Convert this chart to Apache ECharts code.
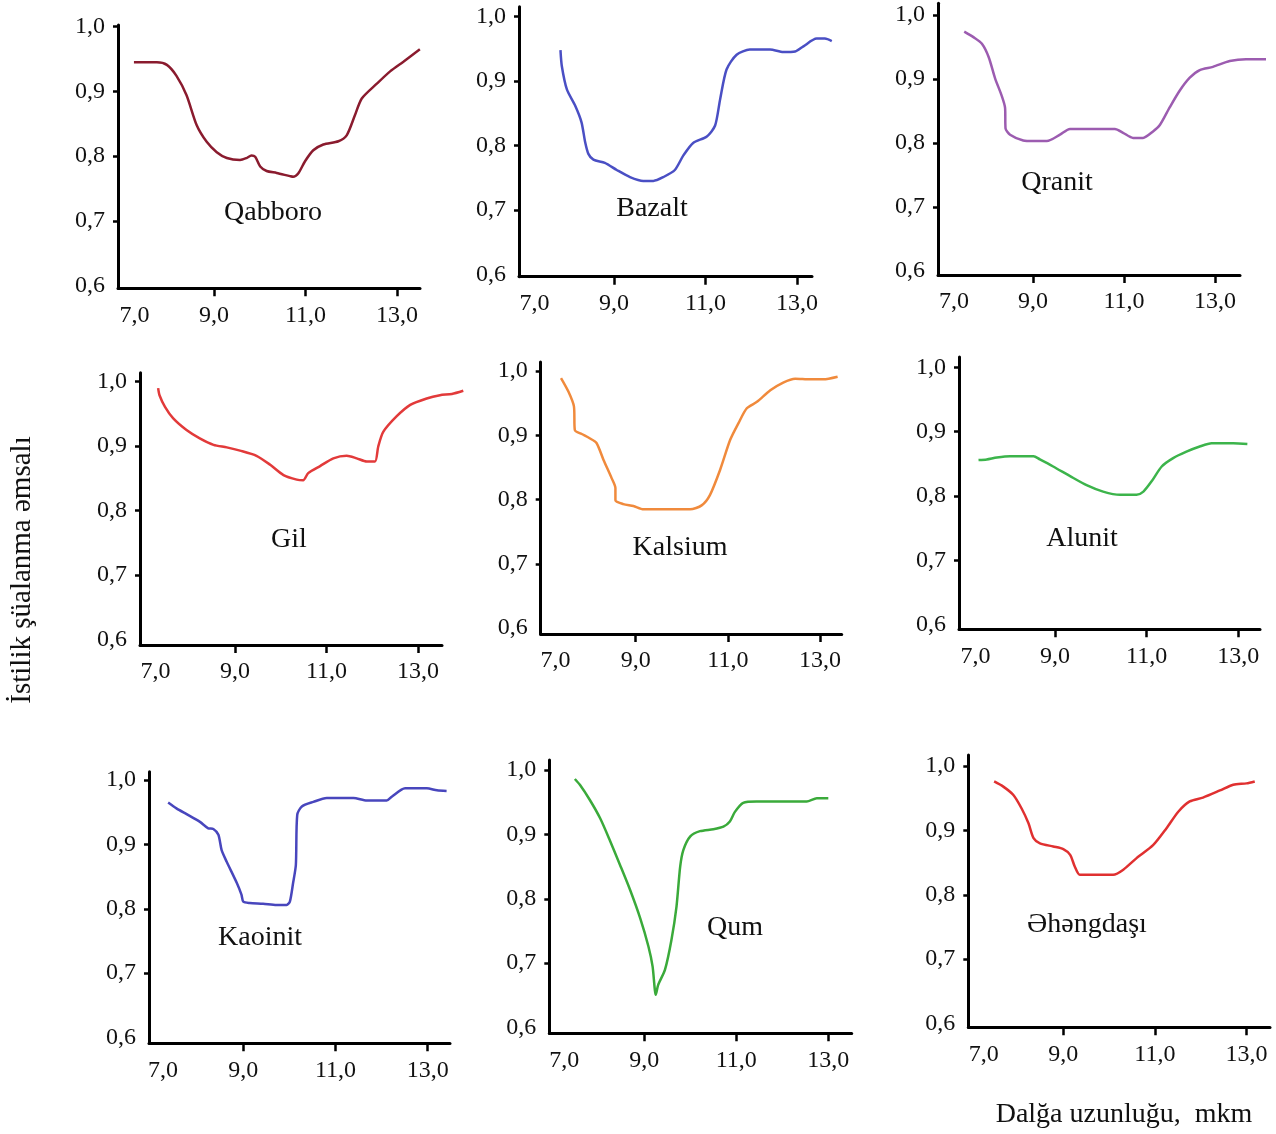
<!DOCTYPE html>
<html><head><meta charset="utf-8">
<script src="https://cdn.jsdelivr.net/npm/echarts@6/dist/echarts.min.js"></script>
<style>html,body{margin:0;padding:0;background:#fff}#c{width:1276px;height:1134px}</style>
</head><body><div id="c"></div>
<script>
// ---------- data ----------
const panelNames = ['Qabboro','Bazalt','Qranit','Gil','Kalsium','Alunit','Kaoinit','Qum','Əhəngdaşı'];
const xTickValues = [7, 9, 11, 13];
const xTickLabels = ['7,0','9,0','11,0','13,0'];
const yTickValues = [0.6, 0.7, 0.8, 0.9, 1.0];
const yTickLabels = ['0,6','0,7','0,8','0,9','1,0'];
const yAxisTitle = 'İstilik şüalanma əmsalı';
const xAxisTitle = 'Dalğa uzunluğu,  mkm';

const qabboroX = [7.25,7.75,7.97,8.18,8.40,8.62,8.84,9.06,9.28,9.57,9.71,9.82,9.90,10.01,10.15,10.37,10.66,10.73,10.84,10.99,11.17,11.39,11.72,11.90,12.08,12.23,12.56,12.85,13.14,13.50];
const qabboroY = [0.945,0.945,0.941,0.924,0.894,0.848,0.822,0.806,0.797,0.794,0.797,0.801,0.799,0.784,0.777,0.774,0.769,0.768,0.773,0.792,0.809,0.818,0.823,0.832,0.863,0.889,0.912,0.931,0.946,0.965];

const bazaltX = [7.83,7.86,7.97,8.15,8.29,8.37,8.44,8.55,8.80,9.06,9.35,9.64,9.86,10.08,10.33,10.52,10.73,11.03,11.21,11.32,11.46,11.68,11.97,12.41,12.70,12.96,13.14,13.43,13.61,13.76];
const bazaltY = [0.948,0.923,0.887,0.862,0.836,0.805,0.787,0.778,0.773,0.762,0.751,0.745,0.745,0.751,0.762,0.785,0.804,0.814,0.831,0.872,0.918,0.941,0.949,0.949,0.945,0.946,0.954,0.966,0.966,0.962];

const qranitX = [7.49,7.70,7.88,8.03,8.17,8.32,8.39,8.40,8.50,8.79,9.01,9.31,9.60,9.82,10.33,10.81,10.99,11.21,11.43,11.65,11.80,12.02,12.24,12.46,12.68,12.97,13.34,13.70,14.14];
const qranitY = [0.974,0.965,0.955,0.934,0.901,0.873,0.855,0.823,0.813,0.804,0.803,0.803,0.813,0.822,0.822,0.822,0.816,0.808,0.808,0.818,0.828,0.856,0.882,0.902,0.914,0.919,0.928,0.931,0.931];

const gilX = [7.32,7.35,7.47,7.65,7.94,8.23,8.53,8.82,9.11,9.47,9.77,10.06,10.35,10.49,10.60,10.86,11.15,11.44,11.66,11.88,12.06,12.13,12.24,12.53,12.83,13.19,13.48,13.74,13.99];
const gilY = [0.990,0.979,0.961,0.943,0.925,0.912,0.902,0.898,0.893,0.885,0.871,0.855,0.848,0.847,0.858,0.869,0.881,0.885,0.881,0.876,0.876,0.899,0.922,0.946,0.964,0.974,0.979,0.981,0.986];

const kalsiumX = [7.38,7.54,7.66,7.68,7.83,8.01,8.15,8.30,8.48,8.56,8.56,8.73,8.95,9.17,9.60,10.18,10.43,10.61,10.83,11.05,11.23,11.41,11.63,11.92,12.20,12.46,12.78,13.07,13.38];
const kalsiumY = [0.989,0.968,0.945,0.908,0.902,0.895,0.888,0.862,0.833,0.818,0.799,0.793,0.790,0.785,0.785,0.785,0.791,0.807,0.846,0.893,0.919,0.942,0.952,0.970,0.982,0.988,0.987,0.987,0.991];

const alunitX = [7.33,7.51,7.73,8.02,8.53,8.67,8.96,9.33,9.69,10.05,10.42,10.78,10.93,11.11,11.33,11.58,11.87,12.16,12.42,12.89,13.20];
const alunitY = [0.856,0.857,0.860,0.862,0.862,0.857,0.846,0.831,0.817,0.807,0.802,0.802,0.807,0.823,0.846,0.859,0.869,0.877,0.882,0.882,0.881];

const kaoinitX = [7.37,7.55,7.77,8.06,8.24,8.35,8.46,8.53,8.64,8.86,8.96,9.00,9.14,9.43,9.72,9.94,10.01,10.08,10.14,10.17,10.27,10.52,10.81,11.39,11.68,12.11,12.22,12.51,12.98,13.20,13.41];
const kaoinitY = [0.965,0.956,0.947,0.935,0.925,0.924,0.915,0.891,0.873,0.840,0.822,0.811,0.809,0.808,0.806,0.806,0.811,0.840,0.868,0.946,0.959,0.966,0.972,0.972,0.968,0.968,0.974,0.987,0.987,0.984,0.983];

const qumX = [7.49,7.60,7.82,8.04,8.25,8.47,8.69,8.91,9.09,9.18,9.25,9.30,9.45,9.59,9.70,9.78,9.85,10.00,10.21,10.50,10.72,10.86,10.97,11.15,11.44,12.17,12.53,12.75,13.00];
const qumY = [0.986,0.977,0.953,0.925,0.891,0.853,0.814,0.770,0.726,0.695,0.651,0.666,0.690,0.736,0.788,0.850,0.876,0.897,0.905,0.908,0.912,0.920,0.935,0.949,0.951,0.951,0.951,0.956,0.956];

const ehengdasiX = [7.49,7.69,7.91,8.09,8.24,8.35,8.49,8.78,9.00,9.15,9.25,9.36,9.65,10.09,10.31,10.60,10.96,11.25,11.51,11.76,12.05,12.42,12.71,13.00,13.18];
const ehengdasiY = [0.976,0.968,0.955,0.934,0.911,0.888,0.880,0.875,0.871,0.862,0.844,0.831,0.831,0.831,0.839,0.857,0.877,0.903,0.929,0.945,0.951,0.962,0.971,0.973,0.976];

const seriesX = [qabboroX,bazaltX,qranitX,gilX,kalsiumX,alunitX,kaoinitX,qumX,ehengdasiX];
const seriesY = [qabboroY,bazaltY,qranitY,gilY,kalsiumY,alunitY,kaoinitY,qumY,ehengdasiY];

// ---------- layout (pixels) & styles ----------
const layout = [
  {xl:118,  xr:420,  x9:214,   px:45.75, y10:26.7,  py:64.7, yb:288.3,  yt:25,    lx:273,  ly:213, color:'#8a1b2e'},
  {xl:519,  xr:812,  x9:614,   px:45.75, y10:16.7,  py:64.4, yb:276.7,  yt:6.7,   lx:652,  ly:209, color:'#4a4fc4'},
  {xl:938,  xr:1240, x9:1033,  px:45.5,  y10:15,    py:64,   yb:275,    yt:3.3,   lx:1057, ly:183, color:'#9c5cb0'},
  {xl:140,  xr:442,  x9:235,   px:45.75, y10:381.7, py:64.4, yb:645,    yt:372.7, lx:289,  ly:540, color:'#e23a3a'},
  {xl:540.7,xr:841.7,x9:635.7, px:46.1,  y10:371,   py:64.3, yb:634,    yt:362,   lx:680,  ly:548, color:'#f08a3c'},
  {xl:959,  xr:1260, x9:1055,  px:45.8,  y10:367.3, py:64.4, yb:629.3,  yt:357,   lx:1082, ly:539, color:'#3cb44b'},
  {xl:149,  xr:450,  x9:243.3, px:46.1,  y10:780,   py:64.4, yb:1043.3, yt:771.7, lx:260,  ly:938, color:'#4846bd'},
  {xl:549.3,xr:851.7,x9:644.3, px:46,    y10:770,   py:64.4, yb:1033.3, yt:760,   lx:735,  ly:928, color:'#3aaa3a'},
  {xl:968.3,xr:1270, x9:1063.3,px:45.8,  y10:766,   py:64.4, yb:1027.3, yt:755,   lx:1087, ly:925, color:'#e03030'}
];

const FONT = '"Liberation Serif", "Times New Roman", serif';
function nearestLabel(v, values, labels) {
  let best = 0;
  values.forEach((t, i) => { if (Math.abs(t - v) < Math.abs(values[best] - v)) best = i; });
  return labels[best];
}

const grid = [], xAxis = [], yAxis = [], series = [], graphic = [];
layout.forEach((L, i) => {
  const xmin = 9 - (L.x9 - L.xl) / L.px, xmax = 9 + (L.xr - L.x9) / L.px;
  const ymin = 1.0 - (L.yb - L.y10) / L.py * 0.1, ymax = 1.0 + (L.y10 - L.yt) / L.py * 0.1;
  // visible axes grid
  const ga = grid.length;
  grid.push({left: L.xl, top: L.yt, width: L.xr - L.xl, height: L.yb - L.yt});
  xAxis.push({
    type: 'value', gridIndex: ga, min: xmin, max: xmax,
    axisLine: {onZero: false, lineStyle: {color: '#000', width: 3}},
    axisTick: {customValues: xTickValues.slice(1), length: 8, lineStyle: {color: '#000', width: 2.5}},
    axisLabel: {customValues: [xTickValues[0] + 12 / L.px].concat(xTickValues.slice(1)),
      formatter: v => nearestLabel(v, xTickValues, xTickLabels),
      color: '#111', fontFamily: FONT, fontSize: 24, margin: 15},
    splitLine: {show: false}
  });
  yAxis.push({
    type: 'value', gridIndex: ga, min: ymin, max: ymax,
    axisLine: {onZero: false, lineStyle: {color: '#000', width: 3}},
    axisTick: {customValues: yTickValues.slice(1), length: 5, lineStyle: {color: '#000', width: 2.5}},
    axisLabel: {customValues: yTickValues,
      formatter: v => nearestLabel(v, yTickValues, yTickLabels),
      color: '#111', fontFamily: FONT, fontSize: 24, margin: 13},
    splitLine: {show: false}
  });
  // hidden data grid with the same scale, wide enough for the whole curve
  const dataMax = Math.max.apply(null, seriesX[i]);
  const xrData = Math.max(L.xr, L.x9 + (dataMax - 9) * L.px + 10);
  const gd = grid.length;
  grid.push({left: L.xl, top: L.yt, width: xrData - L.xl, height: L.yb - L.yt});
  xAxis.push({type: 'value', gridIndex: gd, min: xmin, max: 9 + (xrData - L.x9) / L.px, show: false});
  yAxis.push({type: 'value', gridIndex: gd, min: ymin, max: ymax, show: false});
  series.push({
    type: 'line', name: panelNames[i], xAxisIndex: gd, yAxisIndex: gd,
    data: seriesX[i].map((x, k) => [x, seriesY[i][k]]),
    showSymbol: false, smooth: 0.25, clip: false,
    lineStyle: {color: L.color, width: 2.5}, itemStyle: {color: L.color}
  });
  graphic.push({type: 'text', x: L.lx, y: L.ly,
    style: {text: panelNames[i], fill: '#111', font: '28px ' + FONT, textAlign: 'center', textVerticalAlign: 'middle'}});
});
graphic.push({type: 'text', x: 22, y: 570, rotation: Math.PI / 2,
  style: {text: yAxisTitle, fill: '#111', font: '29px ' + FONT, textAlign: 'center', textVerticalAlign: 'middle'}});
graphic.push({type: 'text', x: 1124, y: 1115,
  style: {text: xAxisTitle, fill: '#111', font: '28px ' + FONT, textAlign: 'center', textVerticalAlign: 'middle'}});

const chart = echarts.init(document.getElementById('c'), null, {renderer: 'canvas'});
chart.setOption({animation: false, backgroundColor: '#fff', grid, xAxis, yAxis, series, graphic});
</script></body></html>
